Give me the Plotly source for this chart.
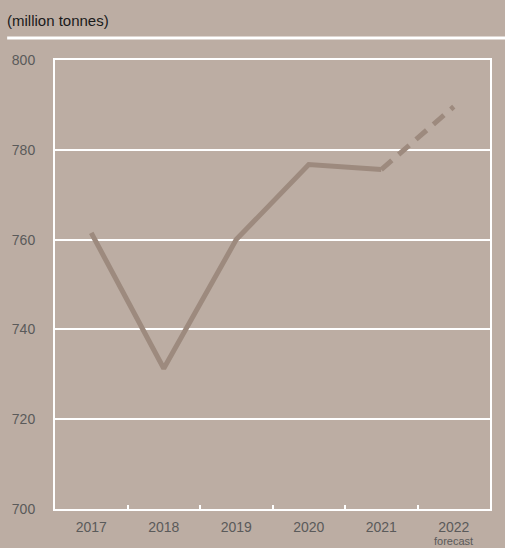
import plotly.graph_objects as go

years = ["2017", "2018", "2019", "2020", "2021", "2022"]
values = [761.5, 731.3, 760.0, 776.7, 775.6, 789.6]
y_ticks = [700, 720, 740, 760, 780, 800]
unit_label = "(million tonnes)"
forecast_label = "forecast"

BG = "#bcada3"
LINE = "#9d8a7e"
TICK = "#5a5a5a"

fig = go.Figure()
fig.add_trace(go.Scatter(x=years[:5], y=values[:5], mode="lines",
                         line=dict(color=LINE, width=5), hoverinfo="skip"))
fig.add_trace(go.Scatter(x=years[4:], y=values[4:], mode="lines",
                         line=dict(color=LINE, width=5, dash="14px,9px"), hoverinfo="skip"))

fig.update_layout(
    width=505, height=548,
    margin=dict(l=55, r=15, t=60, b=39),
    paper_bgcolor=BG, plot_bgcolor=BG,
    showlegend=False,
    font=dict(family="Liberation Sans, Arial, sans-serif", size=14, color=TICK),
    xaxis=dict(type="category", range=[-0.5, 5.5], showgrid=False,
               ticks="inside", tickson="boundaries", ticklen=4, tickwidth=2,
               tickcolor="white", showline=True, linecolor="white", linewidth=2,
               mirror=True, ticklabelstandoff=4, tickfont=dict(size=14, color=TICK)),
    yaxis=dict(range=[700, 800], tickvals=y_ticks, showgrid=True,
               gridcolor="white", gridwidth=2, zeroline=False,
               showline=True, linecolor="white", linewidth=2, mirror=True,
               ticks="", ticklabelstandoff=15, tickfont=dict(size=14, color=TICK)),
    annotations=[
        dict(text=unit_label, xref="paper", yref="paper", x=-0.115, y=1.087,
             xanchor="left", yanchor="middle", showarrow=False,
             font=dict(size=15, color="#1a1a1a")),
        dict(text=forecast_label, xref="x", yref="paper", x=5, y=-0.0713,
             xanchor="center", yanchor="middle", showarrow=False,
             font=dict(size=11, color=TICK)),
    ],
    shapes=[dict(type="line", xref="paper", yref="paper", x0=-0.11, x1=1.04,
                 y0=1.049, y1=1.049, line=dict(color="white", width=3))],
)

fig.write_html("out.html")
